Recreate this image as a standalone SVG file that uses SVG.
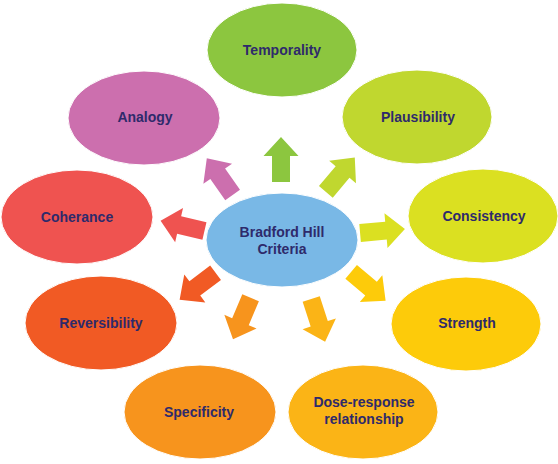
<svg xmlns="http://www.w3.org/2000/svg" width="558" height="464" viewBox="0 0 558 464">
<defs>
<style>
.t{font-family:"Liberation Sans",Arial,sans-serif;font-weight:bold;font-size:14px;fill:#2E2A6B;text-anchor:middle}
.e{stroke:#ffffff;stroke-width:1}
</style>
<path id="arr" d="M-22,-9 H4 V-17.5 L23,0 L4,17.5 V9 H-22 Z"/>
</defs>
<rect width="558" height="464" fill="#ffffff"/>
<g id="connectors">
<use href="#arr" fill="#8CC63F" transform="translate(281,160) rotate(-90)"/>
<use href="#arr" fill="#C0D72F" transform="translate(340,175) rotate(-50)"/>
<use href="#arr" fill="#DBE021" transform="translate(382,231) rotate(-5)"/>
<use href="#arr" fill="#FDCB0A" transform="translate(368,286) rotate(40)"/>
<use href="#arr" fill="#FBB416" transform="translate(318,320) rotate(72)"/>
<use href="#arr" fill="#F7941D" transform="translate(242,318) rotate(113)"/>
<use href="#arr" fill="#F15A24" transform="translate(198,286) rotate(143)"/>
<use href="#arr" fill="#EF5350" transform="translate(183,226) rotate(-167)"/>
<use href="#arr" fill="#CC6FAE" transform="translate(220,177) rotate(-125)"/>
</g>
<g id="temporality"><ellipse class="e" cx="282" cy="50" rx="75" ry="47" fill="#8CC63F"/><text class="t" x="282" y="55">Temporality</text></g>
<g id="plausibility"><ellipse class="e" cx="417" cy="117" rx="75" ry="47" fill="#C0D72F"/><text class="t" x="418" y="122">Plausibility</text></g>
<g id="consistency"><ellipse class="e" cx="483" cy="216" rx="75" ry="47" fill="#DBE021"/><text class="t" x="484" y="221">Consistency</text></g>
<g id="strength"><ellipse class="e" cx="466" cy="324" rx="75" ry="47" fill="#FDCB0A"/><text class="t" x="467" y="328">Strength</text></g>
<g id="dose-response"><ellipse class="e" cx="363" cy="412" rx="75" ry="47" fill="#FBB416"/><text class="t" x="364" y="407">Dose-response</text><text class="t" x="364" y="424">relationship</text></g>
<g id="specificity"><ellipse class="e" cx="200" cy="412" rx="76" ry="47" fill="#F7941D"/><text class="t" x="199" y="417">Specificity</text></g>
<g id="reversibility"><ellipse class="e" cx="101" cy="323" rx="76" ry="47" fill="#F15A24"/><text class="t" x="101" y="328">Reversibility</text></g>
<g id="coherance"><ellipse class="e" cx="77" cy="217" rx="76" ry="47" fill="#EF5350"/><text class="t" x="77" y="222">Coherance</text></g>
<g id="analogy"><ellipse class="e" cx="144" cy="118" rx="76" ry="47" fill="#CC6FAE"/><text class="t" x="145" y="122">Analogy</text></g>
<g id="center"><ellipse class="e" cx="282" cy="240" rx="76" ry="47" fill="#79B8E6"/><text class="t" x="282" y="237">Bradford Hill</text><text class="t" x="282" y="254">Criteria</text></g>
</svg>
